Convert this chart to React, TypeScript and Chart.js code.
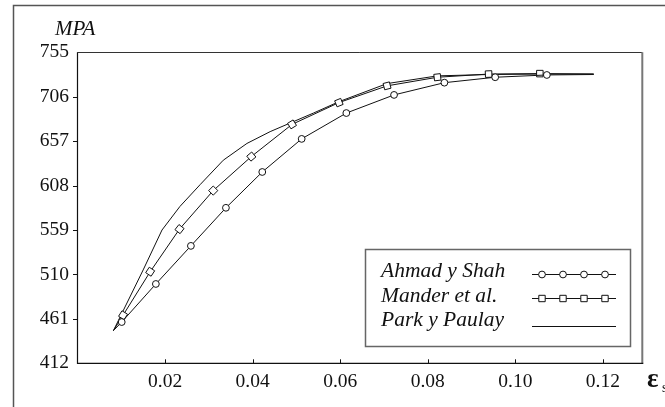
import React, { useEffect, useRef } from 'react';
import { Chart, registerables } from 'chart.js';

Chart.register(...registerables);

// Axis ticks
const strainTicks = [0.02, 0.04, 0.06, 0.08, 0.1, 0.12];
const stressTicks = [412, 461, 510, 559, 608, 657, 706, 755];

// Ahmad y Shah (first and last points carry no marker)
const ahmadStrain = [0.0082, 0.0101, 0.0179, 0.0259, 0.0339, 0.0422, 0.0512, 0.0614, 0.0723, 0.0838, 0.0954, 0.1072, 0.1179];
const ahmadStress = [448, 457.5, 499.5, 541.5, 583.5, 623, 659.5, 688, 708, 721.5, 727.5, 730, 730.5];

// Mander et al.
const manderStrain = [0.0082, 0.0104, 0.0166, 0.0233, 0.031, 0.0397, 0.049, 0.0597, 0.0707, 0.0822, 0.0939, 0.1056, 0.1179];
const manderStress = [448, 465, 513, 560, 602.5, 640, 675.5, 699.5, 718, 727.5, 731, 731.5, 731];

// Park y Paulay
const parkStrain = [0.0082, 0.015, 0.0193, 0.0234, 0.028, 0.0333, 0.0387, 0.044, 0.0493, 0.0539, 0.0597, 0.0707, 0.0822, 0.0939, 0.1056, 0.1179];
const parkStress = [448, 515, 559, 585, 609, 636, 654.5, 667.5, 678.5, 688, 700.5, 720.5, 729, 730.5, 731, 731];

const seriesNames = ['Ahmad y Shah', 'Mander et al.', 'Park y Paulay'];

const toPoints = (xs: number[], ys: number[]) => xs.map((x, i) => ({ x, y: ys[i] }));

const ahmadPoints = toPoints(ahmadStrain, ahmadStress);
const manderPoints = toPoints(manderStrain, manderStress);
const parkPoints = toPoints(parkStrain, parkStress);

const INK = '#111';
const SERIF = '"Liberation Serif", "Times New Roman", serif';

const markerRadius = (r: number, n: number) => (ctx: any) =>
  ctx.dataIndex === 0 || ctx.dataIndex === n - 1 ? 0 : r;

// squares follow the local direction of the curve
const alongCurve = (pts: { x: number; y: number }[]) => (ctx: any) => {
  const chart = ctx.chart;
  const xs = chart.scales?.x;
  const ys = chart.scales?.y;
  const i = ctx.dataIndex;
  if (!xs || !ys || i === undefined) return 0;
  const a = pts[Math.max(i - 1, 0)];
  const b = pts[Math.min(i + 1, pts.length - 1)];
  const dx = xs.getPixelForValue(b.x) - xs.getPixelForValue(a.x);
  const dy = ys.getPixelForValue(b.y) - ys.getPixelForValue(a.y);
  return (Math.atan2(dy, dx) * 180) / Math.PI;
};

const framePlugin = {
  id: 'frame',
  afterDraw(chart: any) {
    const { ctx, chartArea, scales } = chart;
    const { left, right, top, bottom } = chartArea;
    const W = chart.width;
    const H = chart.height;
    ctx.save();

    // outer frame
    ctx.strokeStyle = '#555';
    ctx.lineWidth = 1.5;
    ctx.beginPath();
    ctx.moveTo(13.5, H);
    ctx.lineTo(13.5, 5.5);
    ctx.lineTo(W, 5.5);
    ctx.stroke();

    // plot frame top and right
    ctx.strokeStyle = '#333';
    ctx.lineWidth = 1;
    ctx.beginPath();
    ctx.moveTo(left, Math.round(top) + 0.5);
    ctx.lineTo(right, Math.round(top) + 0.5);
    ctx.stroke();
    ctx.strokeStyle = '#777';
    ctx.lineWidth = 2;
    ctx.beginPath();
    ctx.moveTo(right, top);
    ctx.lineTo(right, bottom);
    ctx.stroke();

    // axes
    ctx.strokeStyle = INK;
    ctx.lineWidth = 1.2;
    ctx.beginPath();
    ctx.moveTo(left, top);
    ctx.lineTo(left, bottom);
    ctx.lineTo(right + 1, bottom);
    ctx.stroke();

    // tick marks
    ctx.lineWidth = 1;
    ctx.beginPath();
    stressTicks.slice(1, -1).forEach((v) => {
      const y = Math.round(scales.y.getPixelForValue(v)) + 0.5;
      ctx.moveTo(left - 4.5, y);
      ctx.lineTo(left, y);
    });
    strainTicks.forEach((v) => {
      const x = Math.round(scales.x.getPixelForValue(v)) + 0.5;
      ctx.moveTo(x, bottom);
      ctx.lineTo(x, bottom - 4);
    });
    ctx.stroke();

    // axis titles
    ctx.fillStyle = INK;
    ctx.textBaseline = 'alphabetic';
    ctx.textAlign = 'left';
    ctx.font = `italic 21px ${SERIF}`;
    ctx.fillText('MPA', 55, 35);
    ctx.font = `bold 27px ${SERIF}`;
    ctx.fillText('ε', 647, 387);
    ctx.font = `14px ${SERIF}`;
    ctx.fillText('s', 662, 392);

    ctx.restore();
  },
};

const legendPlugin = {
  id: 'boxLegend',
  afterDraw(chart: any) {
    const { ctx } = chart;
    ctx.save();
    const bx = 365.5;
    const by = 249.5;
    const bw = 265;
    const bh = 97;
    ctx.fillStyle = '#fff';
    ctx.fillRect(bx, by, bw, bh);
    ctx.strokeStyle = '#666';
    ctx.lineWidth = 1.5;
    ctx.strokeRect(bx, by, bw, bh);

    const baselines = [277, 301.5, 326];
    const sampleY = [274.5, 298.5, 326.5];
    const marks = [542, 563, 584, 605];
    ctx.font = `italic 21.5px ${SERIF}`;
    ctx.fillStyle = INK;
    ctx.textAlign = 'left';
    ctx.textBaseline = 'alphabetic';
    seriesNames.forEach((name, i) => {
      ctx.fillText(name, 381, baselines[i]);
      const y = sampleY[i];
      ctx.strokeStyle = INK;
      ctx.lineWidth = 1;
      ctx.beginPath();
      ctx.moveTo(532, y);
      ctx.lineTo(616, y);
      ctx.stroke();
      if (i < 2) {
        marks.forEach((mx) => {
          ctx.beginPath();
          if (i === 0) ctx.arc(mx, y, 3.4, 0, Math.PI * 2);
          else ctx.rect(mx - 3.2, y - 3.2, 6.4, 6.4);
          ctx.fillStyle = '#fff';
          ctx.fill();
          ctx.stroke();
        });
        ctx.fillStyle = INK;
      }
    });
    ctx.restore();
  },
};

export default function App() {
  const ref = useRef<HTMLCanvasElement>(null);

  useEffect(() => {
    document.body.style.margin = '0';
    const canvas = ref.current;
    if (!canvas) return;
    const line = { borderColor: INK, borderWidth: 1, tension: 0, fill: false };
    const chart = new Chart(canvas, {
      type: 'line',
      data: {
        datasets: [
          {
            ...line,
            label: seriesNames[0],
            data: ahmadPoints,
            pointStyle: 'circle',
            pointRadius: markerRadius(3.4, ahmadPoints.length),
            pointBackgroundColor: '#fff',
            pointBorderColor: INK,
            pointBorderWidth: 1,
          },
          {
            ...line,
            label: seriesNames[1],
            data: manderPoints,
            pointStyle: 'rect',
            pointRadius: markerRadius(4.6, manderPoints.length),
            pointRotation: alongCurve(manderPoints),
            pointBackgroundColor: '#fff',
            pointBorderColor: INK,
            pointBorderWidth: 1,
          },
          {
            ...line,
            label: seriesNames[2],
            data: parkPoints,
            pointRadius: 0,
          },
        ],
      } as any,
      options: {
        animation: false,
        responsive: false,
        devicePixelRatio: 1,
        events: [],
        layout: { padding: { left: 0, right: 22.7, top: 52.3, bottom: 0 } },
        plugins: { legend: { display: false }, tooltip: { enabled: false } },
        scales: {
          x: {
            type: 'linear',
            min: 0,
            max: 0.129,
            afterBuildTicks: (s: any) => {
              s.ticks = strainTicks.map((value) => ({ value }));
            },
            afterFit: (s: any) => {
              s.height = 43.7;
            },
            grid: { display: false, drawTicks: false },
            border: { display: false },
            ticks: {
              autoSkip: false,
              maxRotation: 0,
              padding: 7,
              color: INK,
              font: { family: SERIF, size: 19.5 },
              callback: (v: any) => Number(v).toFixed(2),
            },
          },
          y: {
            type: 'linear',
            min: 412,
            max: 755,
            afterBuildTicks: (s: any) => {
              s.ticks = stressTicks.map((value) => ({ value }));
            },
            afterFit: (s: any) => {
              s.width = 77.5;
            },
            grid: { display: false, drawTicks: false },
            border: { display: false },
            ticks: {
              autoSkip: false,
              padding: 8.5,
              color: INK,
              font: { family: SERIF, size: 19.5 },
              callback: (v: any) => String(v),
            },
          },
        },
      } as any,
      plugins: [framePlugin, legendPlugin],
    });
    return () => chart.destroy();
  }, []);

  return (
    <div style={{ width: 665, height: 407, background: '#fff' }}>
      <canvas ref={ref} width={665} height={407} style={{ display: 'block' }} />
    </div>
  );
}
